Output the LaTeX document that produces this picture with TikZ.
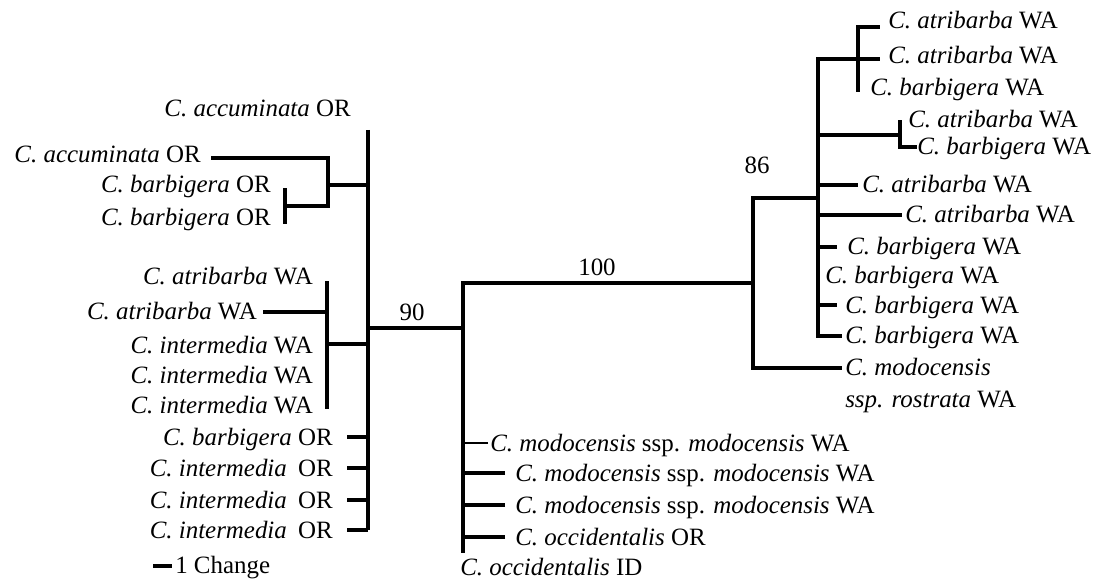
\documentclass[tikz,border=0pt]{standalone}
\usepackage{fontspec}
\setmainfont{Liberation Serif}
\begin{document}
\begin{tikzpicture}[x=0.75pt,y=-0.75pt,
  br/.style={line width=3pt,line cap=rect,line join=miter},
  brthin/.style={line width=1.5pt},
  lab/.style={inner sep=0pt,font=\fontsize{18.7}{22}\selectfont},
  labL/.style={lab,anchor=base east,yshift=-6pt},
  labR/.style={lab,anchor=base west,yshift=-6pt},
  num/.style={lab,anchor=center}]
\useasboundingbox (0,0) rectangle (1093,581);

% ---------- left labels ----------
\node[labL] (L1) at (351,109) {\textit{C. accuminata} OR};
\node[labL] (L2) at (201,155) {\textit{C. accuminata} OR};
\node[labL] (L3) at (271,185) {\textit{C. barbigera} OR};
\node[labL] (L4) at (271,218) {\textit{C. barbigera} OR};
\node[labL] (L5) at (313,277) {\textit{C. atribarba} WA};
\node[labL] (L6) at (257,312) {\textit{C. atribarba} WA};
\node[labL] (L7) at (313,345) {\textit{C. intermedia} WA};
\node[labL] (L8) at (313,375) {\textit{C. intermedia} WA};
\node[labL] (L9) at (313,405) {\textit{C. intermedia} WA};
\node[labL] (L10) at (333,437) {\textit{C. barbigera} OR};
\node[labL] (L11) at (333,468) {\textit{C. intermedia}\hspace{0.45em}OR};
\node[labL] (L12) at (333,500) {\textit{C. intermedia}\hspace{0.45em}OR};
\node[labL] (L13) at (333,530) {\textit{C. intermedia}\hspace{0.45em}OR};

% ---------- bottom centre labels ----------
\node[labR] (M1) at (490,443) {\textit{C. modocensis} ssp. \textit{modocensis} WA};
\node[labR] (M2) at (515,473) {\textit{C. modocensis} ssp. \textit{modocensis} WA};
\node[labR] (M3) at (515,505) {\textit{C. modocensis} ssp. \textit{modocensis} WA};
\node[labR] (M4) at (515,537) {\textit{C. occidentalis} OR};
\node[labR] (M5) at (460,567) {\textit{C. occidentalis} ID};

% ---------- right labels ----------
\node[labR] (R1) at (888,21) {\textit{C. atribarba} WA};
\node[labR] (R2) at (888,56) {\textit{C. atribarba} WA};
\node[labR] (R3) at (870,88) {\textit{C. barbigera} WA};
\node[labR] (R4) at (908,120) {\textit{C. atribarba} WA};
\node[labR] (R5) at (917,147) {\textit{C. barbigera} WA};
\node[labR] (R6) at (862,185) {\textit{C. atribarba} WA};
\node[labR] (R7) at (905,215) {\textit{C. atribarba} WA};
\node[labR] (R8) at (847,247) {\textit{C. barbigera} WA};
\node[labR] (R9) at (825,275) {\textit{C. barbigera} WA};
\node[labR] (R10) at (845,305) {\textit{C. barbigera} WA};
\node[labR] (R11) at (845,335) {\textit{C. barbigera} WA};
\node[labR] (R12) at (845,367) {\textit{C. modocensis}};
\node[labR] (R12b) at (845,399) {\textit{ssp. rostrata} WA};

% ---------- support values ----------
\node[num] (s90) at (412,312) {90};
\node[num] (s100) at (597,267) {100};
\node[num] (s86) at (757,165) {86};

% ---------- scale bar ----------
\coordinate (sb1) at (153,566);
\coordinate (sb2) at (172,566);
\draw[br,line cap=butt] (sb1) -- (sb2);
\node[lab,anchor=base west,yshift=-6pt] (sbl) at (175,565) {1 Change};

% ---------- left clade ----------
\coordinate (nLtop) at (368,130);
\coordinate (nLbot) at (368,530);
\coordinate (nL) at (368,328);
\draw[br,line cap=butt] (nLtop) -- (nLbot);
% accuminata / barbigera clade
\coordinate (tL2) at (213,158);
\coordinate (nA) at (328,185);
\coordinate (nAbot) at (328,206);
\draw[br] (tL2) -| (nAbot);
\draw[br,line cap=butt] (nA) -- (nA -| nL);
\coordinate (nB) at (285,206);
\coordinate (nBtop) at (285,190);
\coordinate (nBbot) at (285,222);
\draw[br] (nBtop) -- (nBbot);
\draw[br,line cap=butt] (nB) -- (nAbot);
% atribarba / intermedia WA clade
\coordinate (nCtop) at (327,283);
\coordinate (nCbot) at (327,407);
\coordinate (nC) at (327,344);
\coordinate (tL6) at (263,312);
\draw[br] (nCtop) -- (nCbot);
\draw[br,line cap=butt] (tL6) -- (tL6 -| nC);
\draw[br,line cap=butt] (nC) -- (nC -| nL);
% stubs
\coordinate (tL10) at (347,437);
\coordinate (tL11) at (347,468);
\coordinate (tL12) at (347,500);
\coordinate (tL13) at (347,530);
\foreach \t in {tL10,tL11,tL12,tL13}
  \draw[br,line cap=butt] (\t) -- (\t -| nL);

% ---------- 90 node ----------
\coordinate (n90) at (463,328);
\coordinate (n90top) at (463,283);
\coordinate (n90bot) at (463,551);
\draw[br,line cap=butt] (nL) -- (n90);
\draw[br] (n90bot) -- (n90top) -- (753,283) coordinate (n100);
\coordinate (tM1) at (488,443);
\coordinate (tM2) at (505,473);
\coordinate (tM3) at (505,505);
\coordinate (tM4) at (505,537);
\draw[brthin] (tM1) -- (tM1 -| n90);
\foreach \t in {tM2,tM3,tM4}
  \draw[br,line cap=butt] (\t) -- (\t -| n90);

% ---------- 86 clade ----------
\coordinate (n86top) at (753,198);
\coordinate (tR12) at (840,368);
\draw[br] (n86top) -- (n86top |- tR12) -- (tR12);
\coordinate (nR) at (818,198);
\draw[br,line cap=butt] (n86top) -- (nR);
\coordinate (nRtop) at (818,59);
\coordinate (tR11) at (840,336);
\draw[br] (878,59) coordinate (tR2) -- (nRtop) -- (nRtop |- tR11) -- (tR11);
% top triplet
\coordinate (nT) at (858,59);
\coordinate (nTtop) at (858,27);
\coordinate (nTbot) at (858,90);
\coordinate (tR1) at (878,27);
\draw[br] (tR1) -- (nTtop) -- (nTbot);
% atribarba / barbigera pair
\coordinate (nP) at (900,135);
\coordinate (nPtop) at (900,122);
\coordinate (tR5) at (915,147);
\draw[br,line cap=butt] (nP -| nR) -- (nP);
\draw[br] (nPtop) -- (nPtop |- tR5) -- (tR5);
% single branches
\coordinate (tR6) at (858,185);
\coordinate (tR7) at (902,215);
\coordinate (tR8) at (837,247);
\coordinate (tR10) at (837,305);
\foreach \t in {tR6,tR7,tR8,tR10}
  \draw[br,line cap=butt] (\t -| nR) -- (\t);
\end{tikzpicture}
\end{document}
